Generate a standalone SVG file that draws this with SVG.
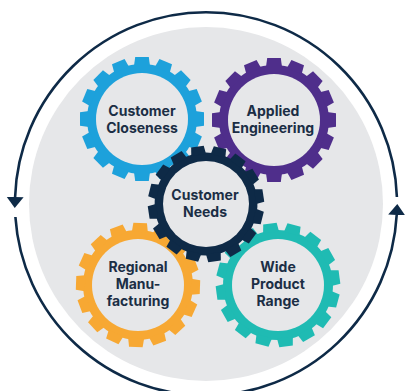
<svg xmlns="http://www.w3.org/2000/svg" xmlns:xlink="http://www.w3.org/1999/xlink" width="405" height="391" viewBox="0 0 405 391">
  <style>
    .lbl { font-family: Inter, "Liberation Sans", Arial, sans-serif; font-weight: 700; font-size: 14px; fill: #1B2E45; text-anchor: middle; }
    .hole { fill: #E6E7E9; }
    .cyc { fill: none; stroke: #0E2A47; stroke-width: 2.6; }
  </style>
  <defs>
    <g id="gearShape">
      <circle r="55"/>
      <path d="M-8,-53 L-6.8,-62 L6.8,-62 L8,-53Z"/>
      <path d="M-8,-53 L-6.8,-62 L6.8,-62 L8,-53Z" transform="rotate(22.5)"/>
      <path d="M-8,-53 L-6.8,-62 L6.8,-62 L8,-53Z" transform="rotate(45)"/>
      <path d="M-8,-53 L-6.8,-62 L6.8,-62 L8,-53Z" transform="rotate(67.5)"/>
      <path d="M-8,-53 L-6.8,-62 L6.8,-62 L8,-53Z" transform="rotate(90)"/>
      <path d="M-8,-53 L-6.8,-62 L6.8,-62 L8,-53Z" transform="rotate(112.5)"/>
      <path d="M-8,-53 L-6.8,-62 L6.8,-62 L8,-53Z" transform="rotate(135)"/>
      <path d="M-8,-53 L-6.8,-62 L6.8,-62 L8,-53Z" transform="rotate(157.5)"/>
      <path d="M-8,-53 L-6.8,-62 L6.8,-62 L8,-53Z" transform="rotate(180)"/>
      <path d="M-8,-53 L-6.8,-62 L6.8,-62 L8,-53Z" transform="rotate(202.5)"/>
      <path d="M-8,-53 L-6.8,-62 L6.8,-62 L8,-53Z" transform="rotate(225)"/>
      <path d="M-8,-53 L-6.8,-62 L6.8,-62 L8,-53Z" transform="rotate(247.5)"/>
      <path d="M-8,-53 L-6.8,-62 L6.8,-62 L8,-53Z" transform="rotate(270)"/>
      <path d="M-8,-53 L-6.8,-62 L6.8,-62 L8,-53Z" transform="rotate(292.5)"/>
      <path d="M-8,-53 L-6.8,-62 L6.8,-62 L8,-53Z" transform="rotate(315)"/>
      <path d="M-8,-53 L-6.8,-62 L6.8,-62 L8,-53Z" transform="rotate(337.5)"/>
    </g>
    <marker id="arrow" markerUnits="userSpaceOnUse" viewBox="0 -9 12 18" markerWidth="12" markerHeight="18" refX="0" refY="0" orient="auto">
      <path d="M0,-8.5 L11,0 L0,8.5 Z" fill="#0E2A47"/>
    </marker>
  </defs>

  <rect width="405" height="391" fill="#FFFFFF"/>
  <circle id="backdrop" cx="206" cy="204" r="177" fill="#E6E7E9"/>

  <g id="connectors">
    <path class="cyc" d="M396.9,197 A191,191 0 0 0 15.1,197" marker-end="url(#arrow)"/>
    <path class="cyc" d="M15.4,217 A191,191 0 0 0 396.7,215" marker-end="url(#arrow)"/>
  </g>

  <g id="customer-closeness">
    <use xlink:href="#gearShape" href="#gearShape" transform="translate(142,119)" fill="#1DA1DB"/>
    <circle class="hole" cx="142" cy="119" r="46"/>
    <text class="lbl" x="142" y="116">Customer</text>
    <text class="lbl" x="142" y="133">Closeness</text>
  </g>

  <g id="applied-engineering">
    <use xlink:href="#gearShape" href="#gearShape" transform="translate(274,120)" fill="#4F2E8B"/>
    <circle class="hole" cx="274" cy="120" r="46"/>
    <text class="lbl" x="273" y="116">Applied</text>
    <text class="lbl" x="273" y="133">Engineering</text>
  </g>

  <g id="regional-manufacturing">
    <use xlink:href="#gearShape" href="#gearShape" transform="translate(138,285) rotate(2)" fill="#F7A833"/>
    <circle class="hole" cx="138" cy="285" r="46"/>
    <text class="lbl" x="138" y="272">Regional</text>
    <text class="lbl" x="138" y="289">Manu-</text>
    <text class="lbl" x="138" y="306">facturing</text>
  </g>

  <g id="wide-product-range">
    <use xlink:href="#gearShape" href="#gearShape" transform="translate(278,285) rotate(15)" fill="#1FBBB3"/>
    <circle class="hole" cx="278" cy="285" r="46"/>
    <text class="lbl" x="278" y="272">Wide</text>
    <text class="lbl" x="278" y="289">Product</text>
    <text class="lbl" x="278" y="306">Range</text>
  </g>

  <g id="customer-needs">
    <use xlink:href="#gearShape" href="#gearShape" transform="translate(206,204) scale(0.935) rotate(14)" fill="#0E2A47"/>
    <circle class="hole" cx="206" cy="204" r="43"/>
    <text class="lbl" x="205" y="200">Customer</text>
    <text class="lbl" x="205" y="217">Needs</text>
  </g>
</svg>
